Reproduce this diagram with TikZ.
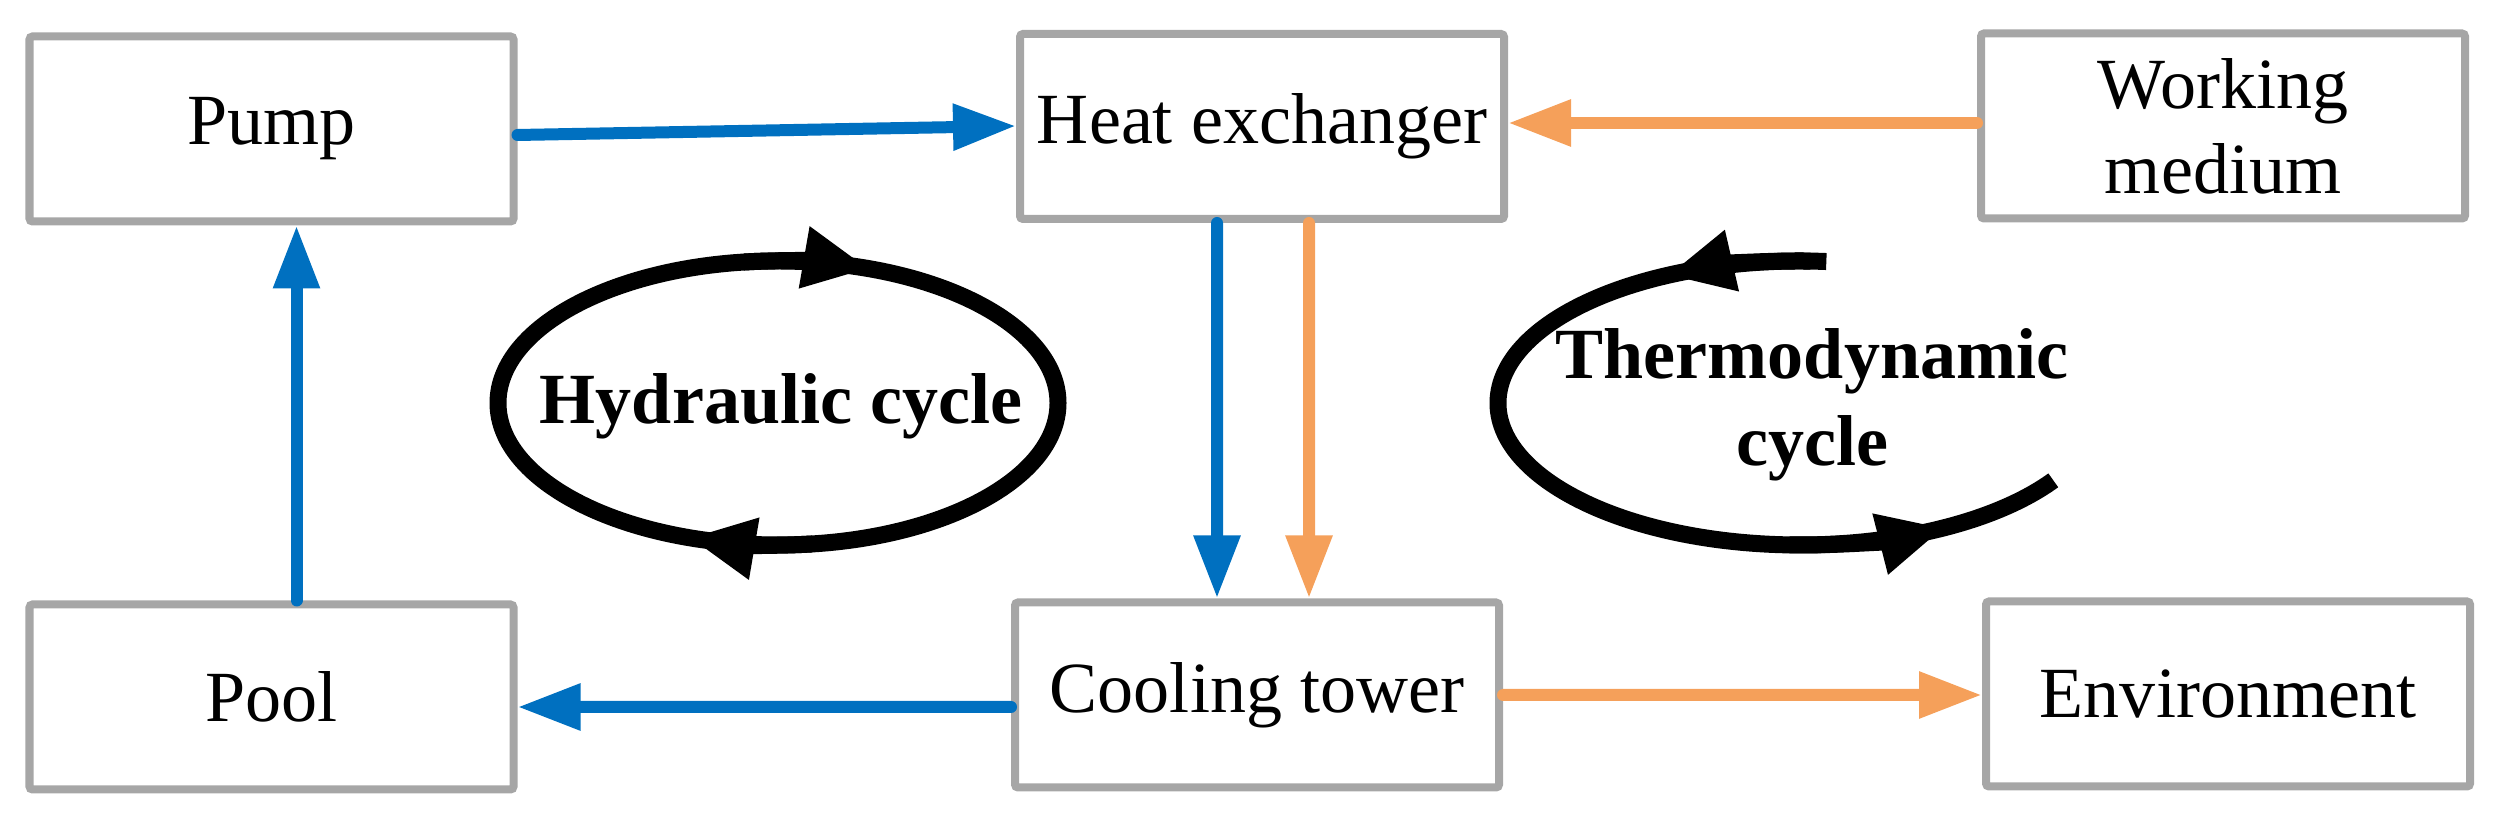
\documentclass[tikz,border=0pt]{standalone}
\usepackage{fontspec}
\setmainfont{Liberation Serif}
\usepackage{tikz}
\usetikzlibrary{arrows.meta}
\definecolor{boxgray}{HTML}{A6A6A6}
\definecolor{flowblue}{HTML}{0070C0}
\definecolor{floworange}{HTML}{F5A05A}

\begin{document}
\begin{tikzpicture}[
  box/.style={draw=boxgray, line width=0.08cm, rounded corners=0.03cm, minimum width=4.84cm, minimum height=1.85cm, inner sep=0pt, align=center, font=\fontsize{20.5}{24.2}\selectfont},
  blueflow/.style={draw=flowblue, line width=0.12cm, line cap=round, -{Triangle[length=0.63cm,width=0.44cm]}},
  orangeflow/.style={blueflow, draw=floworange},
  cyc/.style={line width=0.17cm},
  cyctip/.style={cyc, -{Triangle[length=0.66cm,width=0.58cm]}},
  cyclabel/.style={font=\bfseries\fontsize{20.5}{24.8}\selectfont, align=center}
]
  \useasboundingbox (0,0) rectangle (25,8.2);
  % boxes
  \node[box] (pump) at (2.715,6.91) {Pump};
  \node[box] (hx) at (12.62,6.935) {Heat exchanger};
  \node[box] (wm) at (22.23,6.94) {Working\\medium};
  \node[box] (pool) at (2.715,1.23) {Pool};
  \node[box] (ct) at (12.57,1.25) {Cooling tower};
  \node[box] (env) at (22.28,1.26) {Environment};
  % flows
  \draw[blueflow] ([yshift=-0.06cm]pump.east) -- ([yshift=0.005cm]hx.west);
  \draw[orangeflow] ([yshift=0.03cm]wm.west) -- ([yshift=0.035cm]hx.east);
  \draw[blueflow] ([xshift=-0.45cm]hx.south) -- ([xshift=-0.40cm]ct.north);
  \draw[orangeflow] ([xshift=0.47cm]hx.south) -- ([xshift=0.52cm]ct.north);
  \draw[blueflow] ([yshift=-0.12cm]ct.west) -- ([yshift=-0.10cm]pool.east);
  \draw[orangeflow] (ct.east) -- ([yshift=-0.01cm]env.west);
  \draw[blueflow] ([xshift=0.25cm]pool.north) -- ([xshift=0.25cm]pump.south);
  % hydraulic cycle
  \coordinate (hc) at (7.78,4.17);
  \draw[cyc] (hc) ellipse [x radius=2.80cm, y radius=1.42cm];
  \draw[cyctip] ([shift={(97:2.80cm and 1.42cm)}]hc) arc[start angle=97, end angle=71, x radius=2.80cm, y radius=1.42cm];
  \draw[cyctip] ([shift={(277:2.80cm and 1.42cm)}]hc) arc[start angle=277, end angle=251.5, x radius=2.80cm, y radius=1.42cm];
  \node[cyclabel] (hyd) at (7.81,4.14) {Hydraulic cycle};
  % thermodynamic cycle
  \coordinate (tc) at (18.00,4.17);
  \draw[cyc] ([shift={(85:3.02cm and 1.42cm)}]tc) arc[start angle=85, end angle=327, x radius=3.02cm, y radius=1.42cm];
  \draw[cyctip] ([shift={(88:3.02cm and 1.42cm)}]tc) arc[start angle=88, end angle=116, x radius=3.02cm, y radius=1.42cm];
  \draw[cyctip] ([shift={(268:3.02cm and 1.42cm)}]tc) arc[start angle=268, end angle=298.5, x radius=3.02cm, y radius=1.42cm];
  \node[cyclabel] (thermo) at (18.12,4.15) {Thermodynamic\\cycle};
\end{tikzpicture}
\end{document}
